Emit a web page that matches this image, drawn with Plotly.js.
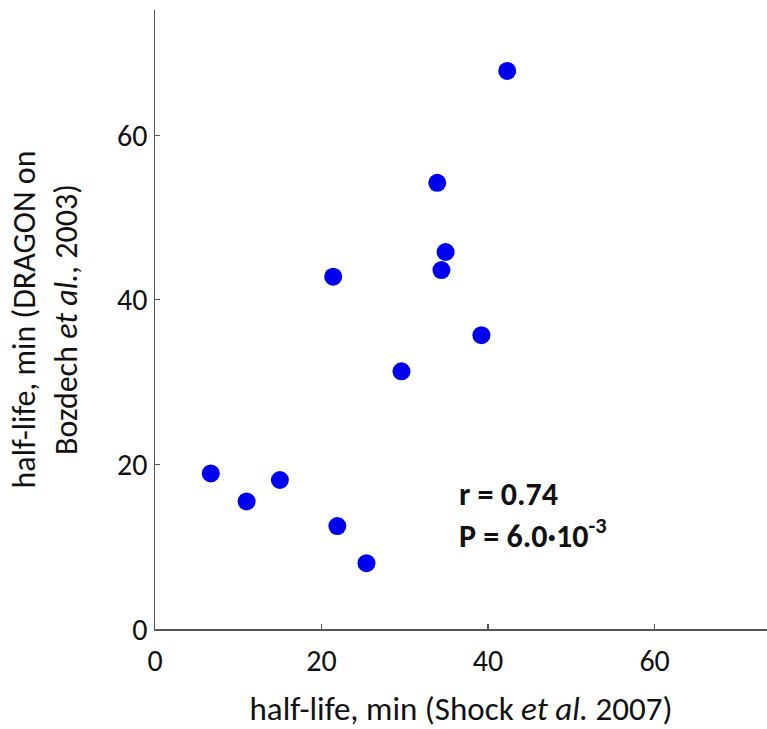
<!DOCTYPE html>
<html>
<head>
<meta charset="utf-8">
<script src="https://cdn.plot.ly/plotly-3.0.1.min.js"></script>
<style>html,body{margin:0;padding:0;background:#fff;}#chart{width:767px;height:729px;}</style>
</head>
<body>
<div id="chart"></div>
<script>
const shockHalfLife = [6.7, 11.0, 15.0, 21.4, 21.9, 25.4, 29.6, 33.9, 34.4, 34.9, 39.2, 42.3];
const dragonHalfLife = [18.9, 15.5, 18.1, 42.8, 12.5, 8.0, 31.3, 54.2, 43.6, 45.8, 35.7, 67.8];
const xTicks = [0, 20, 40, 60];
const yTicks = [0, 20, 40, 60];
const statsLines = ["r = 0.74", "P = 6.0·10<sup>-3</sup>"];

const font = "Carlito, Lato, 'Open Sans', sans-serif";

const trace = {
  x: shockHalfLife,
  y: dragonHalfLife,
  type: "scatter",
  mode: "markers",
  marker: {color: "#0000f0", size: 18},
  hoverinfo: "skip"
};

const layout = {
  width: 767, height: 729,
  margin: {l: 155, r: 0, t: 10, b: 100},
  paper_bgcolor: "#fff", plot_bgcolor: "#fff",
  showlegend: false,
  font: {family: font, size: 30, color: "#111"},
  xaxis: {
    range: [0, 73.5], tickvals: xTicks, ticktext: xTicks.map(String),
    showgrid: false, zeroline: false, showline: true, linecolor: "#555", linewidth: 1.5,
    ticks: "inside", ticklen: 5, tickcolor: "#555", tickwidth: 1.2,
    ticklabelstandoff: 4,
    tickfont: {family: font, size: 30, color: "#111"},
    title: {text: "half-life, min (Shock <i>et al.</i> 2007)", font: {family: font, size: 33, color: "#111"}, standoff: 22}
  },
  yaxis: {
    range: [0, 75.2], tickvals: yTicks, ticktext: yTicks.map(String),
    showgrid: false, zeroline: false, showline: true, linecolor: "#555", linewidth: 1.5,
    ticks: "inside", ticklen: 5, tickcolor: "#555", tickwidth: 1.2,
    tickfont: {family: font, size: 30, color: "#111"},
    title: {text: "half-life, min (DRAGON on<br>Bozdech <i>et al.</i>, 2003)", font: {family: font, size: 32, color: "#111"}, standoff: 30}
  },
  annotations: [{
    x: 36.3, y: 13.8, xref: "x", yref: "y", xanchor: "left", yanchor: "middle",
    text: "<b>" + statsLines[0] + "</b><br><b>" + statsLines[1] + "</b>",
    align: "left", showarrow: false,
    font: {family: font, size: 32, color: "#111"}
  }]
};

Plotly.newPlot("chart", [trace], layout, {displayModeBar: false, staticPlot: true});
</script>
</body>
</html>
